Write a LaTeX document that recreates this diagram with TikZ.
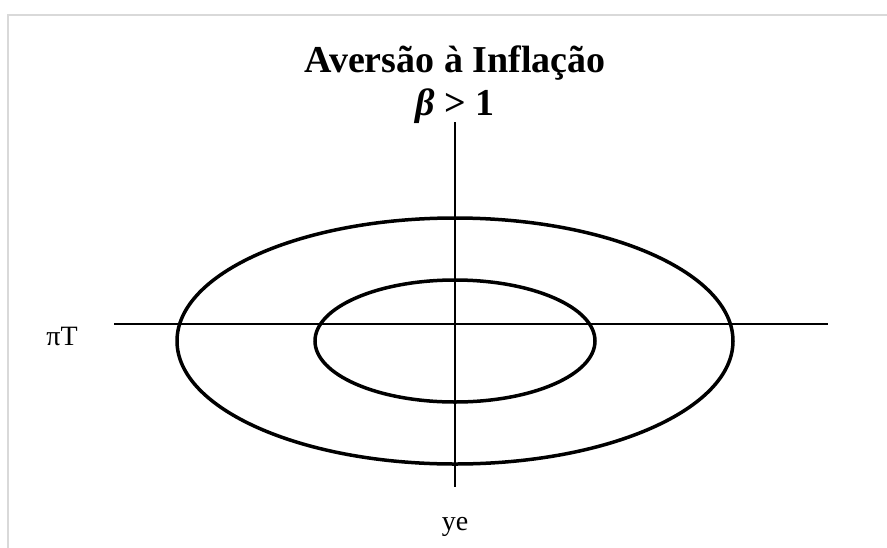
\documentclass[tikz,border=0pt]{standalone}
\usepackage{fontspec}
\setmainfont{Liberation Serif}
\usetikzlibrary{positioning}
\tikzset{
  axis/.style = {line width=2pt},
  curve/.style = {line width=3.5pt},
  frame/.style = {draw=black!15,line width=1.5pt},
  title/.style = {font=\fontsize{38}{42}\selectfont\bfseries,inner sep=0pt,anchor=base},
  tag/.style = {font=\fontsize{28}{30}\selectfont,inner sep=0pt,anchor=base}
}

\begin{document}
\begin{tikzpicture}[x=1pt,y=-1pt]
  \useasboundingbox (0,0) rectangle (887,547);
  \pgfmathsetmacro{\cx}{455};
  \pgfmathsetmacro{\cy}{341};
  % chart area
  \draw[frame] (8,560) |- (900,15);
  % 
  \node[title] (head) at (\cx,72) {Aversão à Inflação};
  \node[title,below=43pt of head.base,anchor=base] (cond) {\itshape β\upshape{} > 1};
  % axes
  \coordinate (L) at (114,324);
  \coordinate (R) at (828,324);
  \coordinate (T) at (\cx,122);
  \coordinate (B) at (\cx,487);
  \draw[axis] (L) -- (R);
  \draw[axis] (T) -- (B);
  % curves
  \draw[curve] (\cx,\cy) ellipse [x radius=278, y radius=123];
  \draw[curve] (\cx,\cy) ellipse [x radius=140, y radius=61];
  % 
  \node[tag] (pit) at (62,345) {πT};
  \node[tag] (ye) at (\cx,530) {ye};
\end{tikzpicture}
\end{document}
